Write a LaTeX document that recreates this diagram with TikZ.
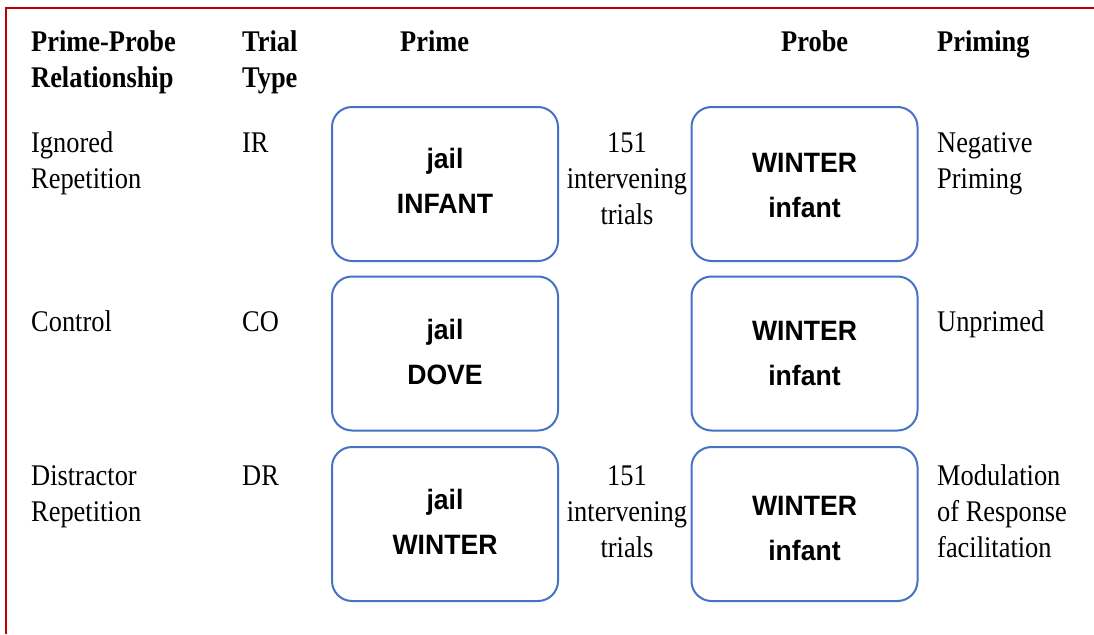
\documentclass[tikz,border=0pt]{standalone}
\usepackage{fontspec}
\setmainfont{Liberation Serif}[FakeStretch=0.88]
\newfontfamily\boxfont{Liberation Sans}[FakeStretch=0.95]
\definecolor{frame}{RGB}{192,0,0}
\definecolor{boxblue}{RGB}{68,114,196}
\begin{document}
\begin{tikzpicture}[x=1pt,y=-1pt,
  lbl/.style={anchor=base west, inner sep=0pt, align=left, font=\fontsize{30}{36}\selectfont},
  hdr/.style={anchor=base west, inner sep=0pt, align=left, font=\fontsize{30}{36}\selectfont\bfseries},
  gap/.style={anchor=base, inner sep=0pt, align=center, font=\fontsize{30}{36}\selectfont},
  stim/.style={draw=boxblue, line width=2pt, rounded corners=20pt, minimum width=226pt, minimum height=154pt, inner sep=0pt},
  word/.style={anchor=base, inner sep=0pt, align=center, font=\boxfont\bfseries\fontsize{28}{45}\selectfont}]
\useasboundingbox (0,0) rectangle (1094,634);
\fill[white] (0,0) rectangle (1094,634);
\draw[frame, line width=2.5pt] (1094,8) -- (6,8) -- (6,634);
% headers (anchors at the baseline of the last line)
\node[hdr] (hrel) at (31,88) {Prime-Probe\\Relationship};
\node[hdr] (htype) at (242,88) {Trial\\Type};
\node[hdr] (hprime) at (400,52) {Prime};
\node[hdr] (hprobe) at (781,52) {Probe};
\node[hdr] (hpriming) at (937,52) {Priming};
% row 1
\node[lbl] (rel1) at (31,188) {Ignored\\Repetition};
\node[lbl] (type1) at (242,152) {IR};
\node[stim] (prime1) at (445,184) {};
\node[word] (pw1) at (445,213) {jail\\INFANT};
\node[gap] (gap1) at (627,224) {151\\intervening\\trials};
\node[stim] (probe1) at (804.5,184) {};
\node[word] (bw1) at (804.5,217) {WINTER\\infant};
\node[lbl] (res1) at (937,188) {Negative\\Priming};
% row 2
\node[lbl] (rel2) at (31,331) {Control};
\node[lbl] (type2) at (242,331) {CO};
\node[stim] (prime2) at (445,353.5) {};
\node[word] (pw2) at (445,384) {jail\\DOVE};
\node[stim] (probe2) at (804.5,353.5) {};
\node[word] (bw2) at (804.5,385) {WINTER\\infant};
\node[lbl] (res2) at (937,331) {Unprimed};
% row 3
\node[lbl] (rel3) at (31,521) {Distractor\\Repetition};
\node[lbl] (type3) at (242,485) {DR};
\node[stim] (prime3) at (445,524) {};
\node[word] (pw3) at (445,554) {jail\\WINTER};
\node[gap] (gap3) at (627,557) {151\\intervening\\trials};
\node[stim] (probe3) at (804.5,524) {};
\node[word] (bw3) at (804.5,560) {WINTER\\infant};
\node[lbl] (res3) at (937,557) {Modulation\\of Response\\facilitation};
\end{tikzpicture}
\end{document}
